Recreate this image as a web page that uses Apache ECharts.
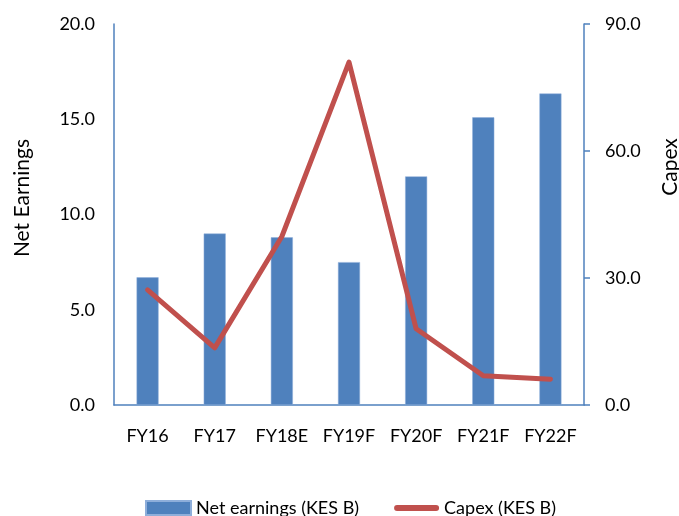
<!DOCTYPE html>
<html>
<head>
<meta charset="utf-8">
<script src="https://cdn.jsdelivr.net/npm/echarts@6/dist/echarts.min.js"></script>
<style>
html,body{margin:0;padding:0;background:#fff;}
#c{width:679px;height:516px;}
</style>
</head>
<body>
<div id="c"></div>
<script>
const categories = ['FY16', 'FY17', 'FY18E', 'FY19F', 'FY20F', 'FY21F', 'FY22F'];
const netEarnings = [6.7, 9.0, 8.8, 7.5, 12.0, 15.1, 16.35];
const capex = [27.2, 13.5, 39.8, 81.0, 18.0, 6.9, 6.1];
const leftTicks = { min: 0, max: 20, interval: 5 };
const rightTicks = { min: 0, max: 90, interval: 30 };

const FONT = 'Lato';
const chart = echarts.init(document.getElementById('c'));
chart.setOption({
  animation: false,
  backgroundColor: '#ffffff',
  textStyle: { fontFamily: FONT },
  grid: { left: 114, right: 95, top: 24, bottom: 111, containLabel: false },
  legend: {
    left: 145, top: 499, padding: 0,
    itemWidth: 45, itemHeight: 14, itemGap: 35,
    textStyle: { fontFamily: FONT, fontSize: 18, color: '#000' },
    data: [
      { name: 'Net earnings (KES B)', icon: 'rect' },
      { name: 'Capex (KES B)', icon: 'path://M3,0H42A3,3 0 0 1 42,6H3A3,3 0 0 1 3,0Z' }
    ]
  },
  xAxis: {
    type: 'category',
    data: categories,
    axisLine: { lineStyle: { color: '#4F81BD', width: 1.5 } },
    axisTick: { show: false },
    axisLabel: { color: '#000', fontSize: 18, fontFamily: FONT, margin: 22, interval: 0 }
  },
  yAxis: [
    {
      type: 'value', min: leftTicks.min, max: leftTicks.max, interval: leftTicks.interval,
      axisLine: { show: true, lineStyle: { color: '#4F81BD', width: 1.5 } },
      axisTick: { show: false },
      splitLine: { show: false },
      axisLabel: { color: '#000', fontSize: 18, fontFamily: FONT, margin: 19,
        formatter: v => v.toFixed(1) }
    },
    {
      type: 'value', min: rightTicks.min, max: rightTicks.max, interval: rightTicks.interval,
      position: 'right',
      axisLine: { show: true, lineStyle: { color: '#4F81BD', width: 1.5 } },
      axisTick: { show: true, length: 6, lineStyle: { color: '#4F81BD', width: 1.5 } },
      splitLine: { show: false },
      axisLabel: { color: '#000', fontSize: 18, fontFamily: FONT, margin: 21,
        formatter: v => v.toFixed(1) }
    }
  ],
  graphic: [
    { type: 'text', x: 22, y: 198, rotation: Math.PI / 2,
      style: { text: 'Net Earnings', font: '21px ' + FONT, fill: '#000',
        align: 'center', verticalAlign: 'middle' } },
    { type: 'text', x: 670, y: 167, rotation: Math.PI / 2,
      style: { text: 'Capex', font: '21px ' + FONT, fill: '#000',
        align: 'center', verticalAlign: 'middle' } }
  ],
  series: [
    {
      name: 'Net earnings (KES B)', type: 'bar', data: netEarnings,
      barWidth: 22, yAxisIndex: 0,
      itemStyle: { color: '#4F81BD', borderColor: '#8EAEDA', borderWidth: 0.5 }
    },
    {
      name: 'Capex (KES B)', type: 'line', data: capex, yAxisIndex: 1,
      symbol: 'none', smooth: false,
      lineStyle: { color: '#C0504D', width: 5, cap: 'round', join: 'round' },
      itemStyle: { color: '#C0504D' }
    }
  ]
});
</script>
</body>
</html>
